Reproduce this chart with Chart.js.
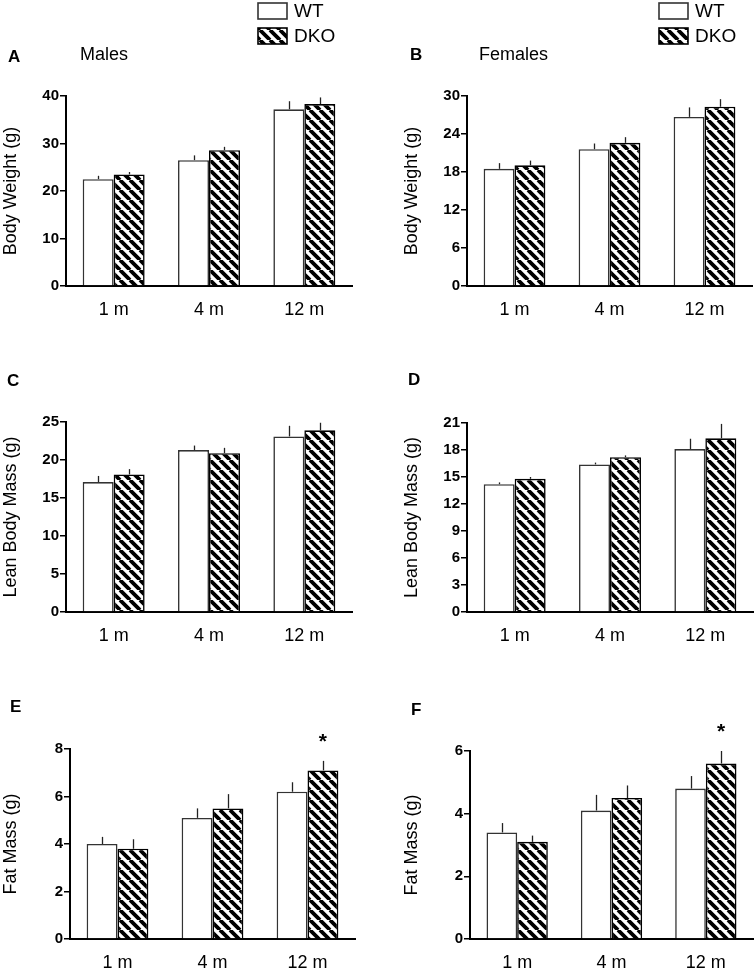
<!DOCTYPE html>
<html>
<head>
<meta charset="utf-8">
<script src="https://cdn.jsdelivr.net/npm/chart.js@4.4.1/dist/chart.umd.min.js"></script>
<style>
  html, body { margin: 0; padding: 0; background: #fff; overflow: hidden; }
  #wrap { position: relative; width: 756px; height: 970px; }
  #wrap canvas { position: absolute; }
</style>
</head>
<body>
<div id="wrap"></div>
<script>
const FONT = "Arial, 'Liberation Sans', Helvetica, sans-serif";

const months = ["1 m", "4 m", "12 m"];
const groups = ["WT", "DKO"];

// A - body weight, males
const bwMaleWT = [22.5, 26.5, 37.2];
const bwMaleWTErr = [0.7, 1.0, 1.7];
const bwMaleDKO = [23.5, 28.6, 38.3];
const bwMaleDKOErr = [0.5, 0.7, 1.4];

// B - body weight, females
const bwFemaleWT = [18.5, 21.6, 26.7];
const bwFemaleWTErr = [0.9, 0.9, 1.5];
const bwFemaleDKO = [19.05, 22.6, 28.3];
const bwFemaleDKOErr = [0.75, 0.9, 1.2];

// C - lean mass, males
const leanMaleWT = [17.1, 21.3, 23.1];
const leanMaleWTErr = [0.8, 0.6, 1.4];
const leanMaleDKO = [18.1, 20.9, 23.9];
const leanMaleDKOErr = [0.7, 0.7, 1.0];

// D - lean mass, females
const leanFemaleWT = [14.2, 16.4, 18.1];
const leanFemaleWTErr = [0.2, 0.2, 1.15];
const leanFemaleDKO = [14.8, 17.2, 19.3];
const leanFemaleDKOErr = [0.2, 0.2, 1.6];

// E - fat mass, males
const fatMaleWT = [4.0, 5.1, 6.2];
const fatMaleWTErr = [0.3, 0.4, 0.4];
const fatMaleDKO = [3.8, 5.5, 7.1];
const fatMaleDKOErr = [0.4, 0.6, 0.4];

// F - fat mass, females
const fatFemaleWT = [3.4, 4.1, 4.8];
const fatFemaleWTErr = [0.3, 0.5, 0.4];
const fatFemaleDKO = [3.1, 4.5, 5.6];
const fatFemaleDKOErr = [0.2, 0.4, 0.4];

const panels = [
  { letter: "A", sub: "Males", left: 0, top: 0, area: [66, 352, 96, 286], yMax: 40, yStep: 10,
    yTitle: "Body Weight (g)", titlePad: 0, wt: bwMaleWT, wtErr: bwMaleWTErr, dko: bwMaleDKO, dkoErr: bwMaleDKOErr,
    letterAt: [8, 57], subAt: [80, 55], legendAt: [258, 3] },
  { letter: "B", sub: "Females", left: 378, top: 0, area: [89, 374, 96, 286], yMax: 30, yStep: 6,
    yTitle: "Body Weight (g)", titlePad: 23, wt: bwFemaleWT, wtErr: bwFemaleWTErr, dko: bwFemaleDKO, dkoErr: bwFemaleDKOErr,
    letterAt: [32, 55], subAt: [101, 55], legendAt: [281, 3] },
  { letter: "C", left: 0, top: 320, area: [66, 352, 102, 292], yMax: 25, yStep: 5,
    yTitle: "Lean Body Mass (g)", titlePad: 0, wt: leanMaleWT, wtErr: leanMaleWTErr, dko: leanMaleDKO, dkoErr: leanMaleDKOErr,
    letterAt: [7, 61] },
  { letter: "D", left: 378, top: 320, area: [89, 375, 103, 292], yMax: 21, yStep: 3,
    yTitle: "Lean Body Mass (g)", titlePad: 23, wt: leanFemaleWT, wtErr: leanFemaleWTErr, dko: leanFemaleDKO, dkoErr: leanFemaleDKOErr,
    letterAt: [30, 60] },
  { letter: "E", left: 0, top: 640, area: [70, 355, 109, 299], yMax: 8, yStep: 2,
    yTitle: "Fat Mass (g)", titlePad: 0, wt: fatMaleWT, wtErr: fatMaleWTErr, dko: fatMaleDKO, dkoErr: fatMaleDKOErr,
    letterAt: [10, 67], star: 2 },
  { letter: "F", left: 378, top: 640, area: [92, 375, 111, 299], yMax: 6, yStep: 2,
    yTitle: "Fat Mass (g)", titlePad: 23, wt: fatFemaleWT, wtErr: fatFemaleWTErr, dko: fatFemaleDKO, dkoErr: fatFemaleDKOErr,
    letterAt: [33, 70], star: 2 },
];

function makeHatch() {
  const n = 10;
  const c = document.createElement("canvas");
  c.width = n;
  c.height = n;
  const g = c.getContext("2d");
  g.fillStyle = "#fff";
  g.fillRect(0, 0, n, n);
  g.strokeStyle = "#000";
  g.lineWidth = 3.8;
  g.beginPath();
  for (const o of [-n, 0, n]) {
    g.moveTo(o, 0);
    g.lineTo(o + n, n);
  }
  g.stroke();
  return g.createPattern(c, "repeat");
}
const hatch = makeHatch();

// error bars, asterisk, panel letters and legend
const panelDeco = {
  id: "panelDeco",
  afterDatasetsDraw(chart, args, opts) {
    const ctx = chart.ctx;
    const y = chart.scales.y;
    ctx.save();
    ctx.strokeStyle = "#222";
    ctx.lineWidth = 1.3;
    opts.errors.forEach((errs, di) => {
      const meta = chart.getDatasetMeta(di);
      const vals = chart.data.datasets[di].data;
      meta.data.forEach((bar, i) => {
        const x = Math.round(bar.x) + 0.5;
        ctx.beginPath();
        ctx.moveTo(x, y.getPixelForValue(vals[i]));
        ctx.lineTo(x, y.getPixelForValue(vals[i] + errs[i]));
        ctx.stroke();
      });
    });
    if (opts.star != null) {
      const bar = chart.getDatasetMeta(1).data[opts.star];
      const v = chart.data.datasets[1].data[opts.star] + opts.errors[1][opts.star];
      ctx.fillStyle = "#000";
      ctx.font = "bold 21px " + FONT;
      ctx.textAlign = "center";
      ctx.textBaseline = "alphabetic";
      ctx.fillText("*", bar.x, y.getPixelForValue(v) - 13);
    }
    ctx.restore();
  },
  afterDraw(chart, args, opts) {
    const ctx = chart.ctx;
    ctx.save();
    ctx.fillStyle = "#000";
    ctx.textAlign = "left";
    ctx.textBaseline = "middle";
    ctx.font = "bold 17px " + FONT;
    ctx.fillText(opts.letter, opts.letterAt[0], opts.letterAt[1]);
    if (opts.sub) {
      ctx.font = "18px " + FONT;
      ctx.fillText(opts.sub, opts.subAt[0], opts.subAt[1]);
    }
    if (opts.legendAt) {
      const [lx, ly] = opts.legendAt;
      chart.data.datasets.forEach((ds, i) => {
        const by = ly + i * 25;
        ctx.fillStyle = ds.backgroundColor;
        ctx.fillRect(lx, by, 29, 16);
        ctx.strokeStyle = ds.borderColor;
        ctx.lineWidth = 1.6;
        ctx.strokeRect(lx, by, 29, 16);
        ctx.fillStyle = "#000";
        ctx.font = "19px " + FONT;
        ctx.fillText(ds.label, lx + 36, by + 9);
      });
    }
    ctx.restore();
  },
};

const wrap = document.getElementById("wrap");

panels.forEach((p) => {
  const [aL, aR, aT, aB] = p.area;
  const canvas = document.createElement("canvas");
  canvas.width = 378;
  canvas.height = aB + 34;
  canvas.style.left = p.left + "px";
  canvas.style.top = p.top + "px";
  wrap.appendChild(canvas);

  new Chart(canvas, {
    type: "bar",
    data: {
      labels: months,
      datasets: [
        {
          label: groups[0],
          data: p.wt,
          backgroundColor: "#ffffff",
          borderColor: "#333333",
          borderWidth: 1.6,
        },
        {
          label: groups[1],
          data: p.dko,
          backgroundColor: hatch,
          borderColor: "#000000",
          borderWidth: 1.6,
        },
      ],
    },
    options: {
      responsive: false,
      animation: false,
      devicePixelRatio: 1,
      layout: { padding: { top: aT, right: 378 - aR, left: 0, bottom: 0 } },
      datasets: { bar: { categoryPercentage: 0.65, barPercentage: 1.0 } },
      scales: {
        x: {
          offset: true,
          grid: { display: false },
          border: { display: true, color: "#000", width: 2 },
          ticks: { color: "#000", padding: 5, font: { family: FONT, size: 18 } },
          afterFit: (s) => { s.height = 34; },
        },
        y: {
          min: 0,
          max: p.yMax,
          ticks: { stepSize: p.yStep, color: "#000", padding: 1, font: { family: FONT, size: 15, weight: "bold" } },
          grid: { drawOnChartArea: false, drawTicks: true, tickLength: 6, color: "#000", lineWidth: 1.5 },
          border: { display: true, color: "#000", width: 2 },
          title: {
            display: true,
            text: p.yTitle,
            color: "#000",
            font: { family: FONT, size: 18 },
            padding: { top: p.titlePad, bottom: 0 },
          },
          afterFit: (s) => { s.width = aL; },
        },
      },
      plugins: {
        legend: { display: false },
        tooltip: { enabled: false },
        panelDeco: {
          letter: p.letter,
          letterAt: p.letterAt,
          sub: p.sub,
          subAt: p.subAt,
          legendAt: p.legendAt,
          errors: [p.wtErr, p.dkoErr],
          star: p.star,
        },
      },
    },
    plugins: [panelDeco],
  });
});
</script>
</body>
</html>
